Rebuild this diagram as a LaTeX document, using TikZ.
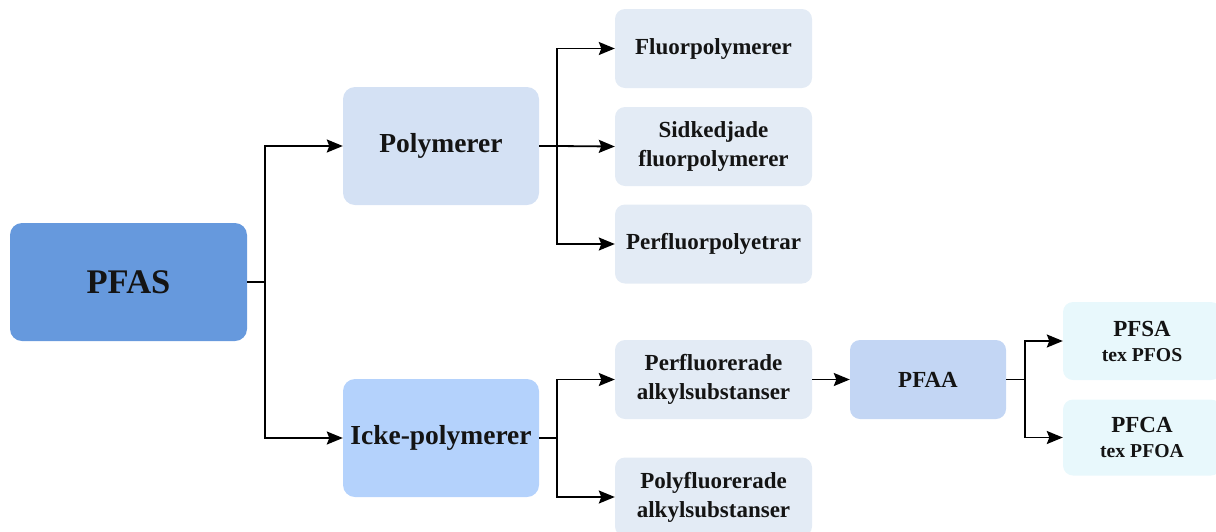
\documentclass[tikz,border=0pt]{standalone}
\usepackage{fontspec}
\setmainfont{Liberation Serif}
\usetikzlibrary{arrows.meta}
\definecolor{pfasblue}{HTML}{6699DD}
\definecolor{polyblue}{HTML}{D4E1F4}
\definecolor{ickeblue}{HTML}{B4D2FC}
\definecolor{leafblue}{HTML}{E3EBF5}
\definecolor{pfaablue}{HTML}{C3D6F4}
\definecolor{cyanleaf}{HTML}{E8F8FC}
\tikzset{
  box/.style={rounded corners=12pt, inner sep=0pt, align=center, text=black!92, font=\bfseries},
  bigbox/.style={box, minimum width=237pt, minimum height=118pt, fill=pfasblue, font=\bfseries\fontsize{34.5}{40}\selectfont},
  midbox/.style={box, minimum width=196pt, minimum height=118pt, font=\bfseries\fontsize{27.5}{32}\selectfont},
  leaf/.style={box, rounded corners=10pt, minimum width=197pt, minimum height=79pt, fill=leafblue, font=\bfseries\fontsize{23}{29}\selectfont},
  smallbox/.style={box, rounded corners=10pt, font=\bfseries\fontsize{23}{27}\selectfont},
  arr/.style={-{Stealth[length=16pt,width=13pt,inset=2.5pt]}, line width=1.8pt, black},
  ln/.style={line width=1.8pt, black}
}
\begin{document}
\begin{tikzpicture}[x=1pt,y=-1pt]
\useasboundingbox (0,0) rectangle (1216,531);
\node[bigbox] (pfas) at (128.5,282) {PFAS};
\node[midbox, fill=polyblue] (poly) at (441,146) {Polymerer};
\node[midbox, fill=ickeblue] (icke) at (441,438) {Icke-polymerer};
\node[leaf] (fluor) at (713.5,48.5) {Fluorpolymerer};
\node[leaf] (sid) at (713.5,146.5) {Sidkedjade\\fluorpolymerer};
\node[leaf] (perpe) at (713.5,244) {Perfluorpolyetrar};
\node[leaf] (perfa) at (713.5,379.5) {Perfluorerade\\alkylsubstanser};
\node[leaf] (polyfa) at (713.5,497) {Polyfluorerade\\alkylsubstanser};
\node[smallbox, minimum width=156pt, minimum height=79pt, fill=pfaablue] (pfaa) at (928,379.5) {PFAA};
\node[smallbox, minimum width=158pt, minimum height=78pt, fill=cyanleaf] (pfsa) at (1142,341) {PFSA\\[-2pt]{\fontsize{19.7}{23}\selectfont tex PFOS}};
\node[smallbox, minimum width=158pt, minimum height=76pt, fill=cyanleaf] (pfca) at (1142,437.5) {PFCA\\[-2pt]{\fontsize{19.7}{23}\selectfont tex PFOA}};
% PFAS trunk
\coordinate (t1) at (265,282);
\draw[ln] (pfas.east) -- (t1);
\draw[arr] (t1) |- (poly.west);
\draw[arr] (t1) |- (icke.west);
% Polymerer branch
\coordinate (t2) at (557,146);
\draw[ln] (poly.east) -- (t2);
\draw[arr] (t2) |- (fluor.west);
\draw[arr] (t2) -- (sid.west);
\draw[arr] (t2) |- (perpe.west);
% Icke branch
\coordinate (t3) at (557,438);
\draw[ln] (icke.east) -- (t3);
\draw[arr] (t3) |- (perfa.west);
\draw[arr] (t3) |- (polyfa.west);
% PFAA
\draw[arr] (perfa.east) -- (pfaa.west);
\coordinate (t4) at (1025,379.5);
\draw[ln] (pfaa.east) -- (t4);
\draw[arr] (t4) |- (pfsa.west);
\draw[arr] (t4) |- (pfca.west);
\end{tikzpicture}
\end{document}
